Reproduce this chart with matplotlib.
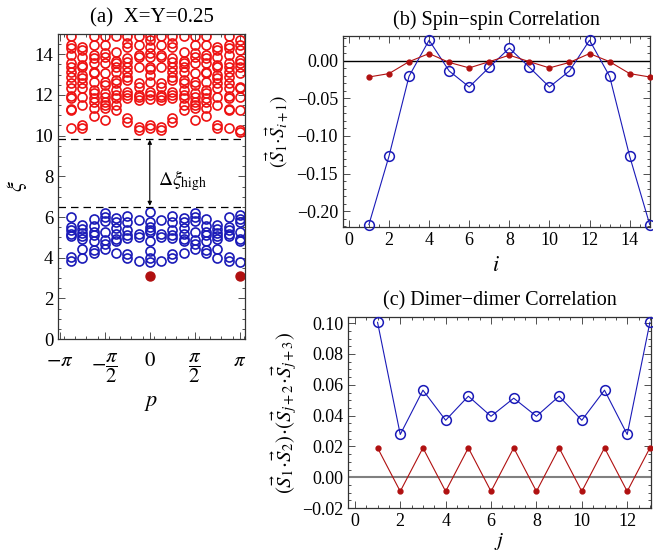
import numpy as np
import matplotlib.pyplot as plt
from matplotlib.ticker import MultipleLocator, FixedLocator

plt.rcParams['font.family'] = ['Liberation Serif', 'DejaVu Serif']
plt.rcParams['mathtext.fontset'] = 'stix'

# entanglement spectrum, momentum index k -> p = 2*pi*k/16
k_index = list(range(-7, 9))

red_levels = [
    [14.90, 14.46, 14.30, 13.97, 13.59, 13.39, 13.15, 12.90, 12.61, 12.33, 11.95, 11.84, 11.30, 11.26, 10.36],
    [14.38, 14.22, 13.89, 13.48, 13.39, 12.99, 12.82, 12.58, 12.33, 11.92, 11.51, 10.53, 10.36],
    [14.90, 14.46, 13.97, 13.81, 13.56, 13.15, 13.07, 12.66, 12.25, 12.09, 11.84, 11.67, 11.35, 10.97],
    [14.90, 14.46, 14.05, 13.89, 13.56, 13.07, 12.66, 12.49, 12.09, 11.92, 11.67, 11.51, 11.35, 10.77],
    [14.90, 14.13, 13.69, 13.56, 13.39, 13.15, 12.74, 12.58, 12.25, 12.00, 11.84, 11.51, 11.26],
    [14.90, 14.54, 14.38, 13.81, 13.64, 13.39, 13.15, 12.90, 12.74, 12.17, 12.00, 11.84, 10.86, 10.69],
    [14.90, 14.46, 13.97, 13.89, 13.39, 12.58, 12.41, 12.00, 11.92, 11.76, 10.44, 10.28],
    [14.88, 14.71, 14.38, 14.05, 13.88, 13.39, 13.30, 13.00, 12.64, 12.15, 11.98, 11.82, 10.50, 10.36],
    [14.90, 14.46, 13.97, 13.89, 13.39, 12.58, 12.41, 12.00, 11.92, 11.76, 10.44, 10.28],
    [14.90, 14.54, 14.38, 13.81, 13.64, 13.39, 13.15, 12.90, 12.74, 12.17, 12.00, 11.84, 10.86, 10.69],
    [14.90, 14.13, 13.69, 13.56, 13.39, 13.15, 12.74, 12.58, 12.25, 12.00, 11.84, 11.51, 11.26],
    [14.90, 14.46, 14.05, 13.89, 13.56, 13.07, 12.66, 12.49, 12.09, 11.92, 11.67, 11.51, 11.35, 10.77],
    [14.90, 14.46, 13.97, 13.81, 13.56, 13.15, 13.07, 12.66, 12.25, 12.09, 11.84, 11.67, 11.35, 10.97],
    [14.38, 14.22, 13.89, 13.48, 13.39, 12.99, 12.82, 12.58, 12.33, 11.92, 11.51, 10.53, 10.36],
    [14.90, 14.46, 14.30, 13.97, 13.59, 13.39, 13.15, 12.90, 12.61, 12.33, 11.95, 11.84, 11.30, 11.26, 10.36],
    [14.71, 14.46, 14.22, 13.72, 13.56, 13.39, 13.07, 12.41, 12.33, 11.92, 11.26, 10.28, 10.20],
]

blue_levels = [
    [6.00, 5.50, 5.35, 5.15, 5.05, 4.05, 3.85],
    [5.60, 5.40, 5.24, 5.07, 4.94, 4.44, 4.00],
    [5.90, 5.57, 5.27, 5.14, 4.80, 4.40, 4.25],
    [6.19, 6.00, 5.80, 5.27, 4.86, 4.68, 4.44],
    [5.94, 5.74, 5.44, 5.19, 4.94, 4.84, 4.25],
    [6.07, 5.77, 5.36, 5.10, 4.99, 4.20, 4.01],
    [5.84, 5.19, 5.02, 3.85],
    [6.27, 5.74, 5.52, 5.36, 5.27, 4.81, 4.34, 3.98, 3.81],
    [5.84, 5.19, 5.02, 3.85],
    [6.07, 5.77, 5.36, 5.10, 4.99, 4.20, 4.01],
    [5.94, 5.74, 5.44, 5.19, 4.94, 4.84, 4.25],
    [6.19, 6.00, 5.80, 5.27, 4.86, 4.68, 4.44],
    [5.90, 5.57, 5.27, 5.14, 4.80, 4.40, 4.25],
    [5.60, 5.40, 5.24, 5.07, 4.94, 4.44, 4.00],
    [6.00, 5.50, 5.35, 5.15, 5.05, 4.05, 3.85],
    [6.10, 5.90, 5.77, 5.27, 4.94, 4.81, 3.78],
]

ground_p = [0.0, np.pi]
ground_xi = [3.12, 3.12]
gap_high = 9.85
gap_low = 6.5

# spin-spin correlation
site_i = list(range(1, 16))
ss_blue = [-0.218, -0.127, -0.0205, 0.0276, -0.0134, -0.0347, -0.0085, 0.017,
           -0.0085, -0.0347, -0.0134, 0.0276, -0.0205, -0.127, -0.218]
ss_red = [-0.0214, -0.0169, -0.001, 0.0098, -0.002, -0.0093, -0.001, 0.0076,
          -0.001, -0.0093, -0.002, 0.0098, -0.001, -0.0169, -0.0214]

# dimer-dimer correlation
site_j = list(range(1, 14))
dd_blue = [0.1005, 0.0278, 0.0565, 0.037, 0.0526, 0.0396, 0.0513, 0.0396,
           0.0526, 0.037, 0.0565, 0.0278, 0.1005]
dd_red = [0.0191, -0.0091, 0.0191, -0.0091, 0.0191, -0.0091, 0.0191, -0.0091,
          0.0191, -0.0091, 0.0191, -0.0091, 0.0191]

RED = '#ee1111'
BLUE = '#1a1ab8'
DARKRED = '#b01010'
FRAME = '#333333'


def frame_style(ax, size):
    for s in ax.spines.values():
        s.set_color(FRAME)
        s.set_linewidth(0.9)
    ax.tick_params(which='both', direction='in', top=True, right=True,
                   colors=FRAME, labelcolor='black', width=0.6)
    ax.tick_params(which='major', length=5, labelsize=size)
    ax.tick_params(which='minor', length=2.5)


fig = plt.figure(figsize=(6.53, 5.56), dpi=100)

# (a) spectrum
ax1 = fig.add_axes([0.089, 0.390, 0.286, 0.549])
for k, lv in zip(k_index, red_levels):
    ax1.plot([2 * np.pi * k / 16] * len(lv), lv, 'o', mfc='none', mec=RED,
             ms=6.5, mew=1.2)
for k, lv in zip(k_index, blue_levels):
    ax1.plot([2 * np.pi * k / 16] * len(lv), lv, 'o', mfc='none', mec=BLUE,
             ms=6.5, mew=1.2, clip_on=False)
ax1.plot(ground_p, ground_xi, 'o', color=DARKRED, ms=6.5, clip_on=False)
ax1.axhline(gap_high, color='black', ls=(0, (6, 4)), lw=0.9)
ax1.axhline(gap_low, color='black', ls=(0, (6, 4)), lw=0.9)
ax1.annotate('', xy=(0, gap_high - 0.05), xytext=(0, gap_low + 0.05),
             arrowprops=dict(arrowstyle='<|-|>', color='black', lw=0.8,
                             mutation_scale=6, shrinkA=0, shrinkB=0))
ax1.text(0.3, 7.8, r'$\Delta\xi_{\rm high}$', fontsize=14, va='center')
ax1.set_xlim(-3.2, 3.32)
ax1.set_ylim(0, 15)
ax1.xaxis.set_major_locator(FixedLocator([-np.pi, -np.pi / 2, 0, np.pi / 2, np.pi]))
ax1.set_xticklabels([r'$-\pi$', r'$-\dfrac{\pi}{2}$', r'$0$', r'$\dfrac{\pi}{2}$', r'$\pi$'])
ax1.xaxis.set_minor_locator(FixedLocator(np.arange(-3, 3.3, np.pi / 8)))
ax1.yaxis.set_major_locator(MultipleLocator(2))
ax1.yaxis.set_minor_locator(MultipleLocator(0.5))
frame_style(ax1, 13.5)
ax1.tick_params(axis='x', labelsize=15, pad=9)
ax1.set_xlabel(r'$p$', fontsize=16, labelpad=6)
ax1.set_ylabel(r'$\xi$', fontsize=16, labelpad=4)
ax1.set_title('(a)  X=Y=0.25', fontsize=15, pad=8)

# (b) spin-spin correlation
ax2 = fig.add_axes([0.525, 0.592, 0.470, 0.343])
ax2.axhline(0, color='black', lw=1.0)
ax2.plot(site_i, ss_blue, '-o', color=BLUE, mfc='none', mec=BLUE, ms=7,
         mew=1.1, lw=0.8, clip_on=False, zorder=3)
ax2.plot(site_i, ss_red, '-o', color=DARKRED, ms=3.5, lw=0.8,
         clip_on=False, zorder=4)
ax2.set_xlim(-0.3, 15.0)
ax2.set_ylim(-0.221, 0.033)
ax2.xaxis.set_major_locator(MultipleLocator(2))
ax2.xaxis.set_minor_locator(MultipleLocator(0.5))
ax2.yaxis.set_major_locator(MultipleLocator(0.05))
ax2.yaxis.set_minor_locator(MultipleLocator(0.01))
ax2.yaxis.set_major_formatter(lambda v, pos: f'{v:.2f}'.replace('-', '\u2212'))
frame_style(ax2, 13)
ax2.set_xlabel(r'$i$', fontsize=16, labelpad=6)
ax2.set_ylabel(r'$(\vec{S}_1\!\cdot\!\vec{S}_{i+1})$', fontsize=14, labelpad=4)
ax2.set_title('(b) Spin\u2212spin Correlation', fontsize=14.5, pad=8)

# (c) dimer-dimer correlation
ax3 = fig.add_axes([0.533, 0.086, 0.464, 0.344])
ax3.axhline(0, color='#808080', lw=1.5)
ax3.plot(site_j, dd_blue, '-o', color=BLUE, mfc='none', mec=BLUE, ms=7,
         mew=1.1, lw=0.8, clip_on=False, zorder=3)
ax3.plot(site_j, dd_red, '-o', color=DARKRED, ms=3.5, lw=0.8,
         clip_on=False, zorder=4)
ax3.set_xlim(-0.3, 13.05)
ax3.set_ylim(-0.02, 0.104)
ax3.xaxis.set_major_locator(MultipleLocator(2))
ax3.xaxis.set_minor_locator(MultipleLocator(0.5))
ax3.yaxis.set_major_locator(MultipleLocator(0.02))
ax3.yaxis.set_minor_locator(MultipleLocator(0.005))
ax3.yaxis.set_major_formatter(lambda v, pos: f'{v:.2f}'.replace('-', '\u2212'))
frame_style(ax3, 13)
ax3.set_xlabel(r'$j$', fontsize=15, labelpad=1)
ax3.set_ylabel(r'$(\vec{S}_1\!\cdot\!\vec{S}_2)\!\cdot\!(\vec{S}_{j+2}\!\cdot\!\vec{S}_{j+3})$',
               fontsize=15, labelpad=2)
ax3.set_title('(c) Dimer\u2212dimer Correlation', fontsize=14.5, pad=8)

fig.savefig('out.png', dpi=100)
